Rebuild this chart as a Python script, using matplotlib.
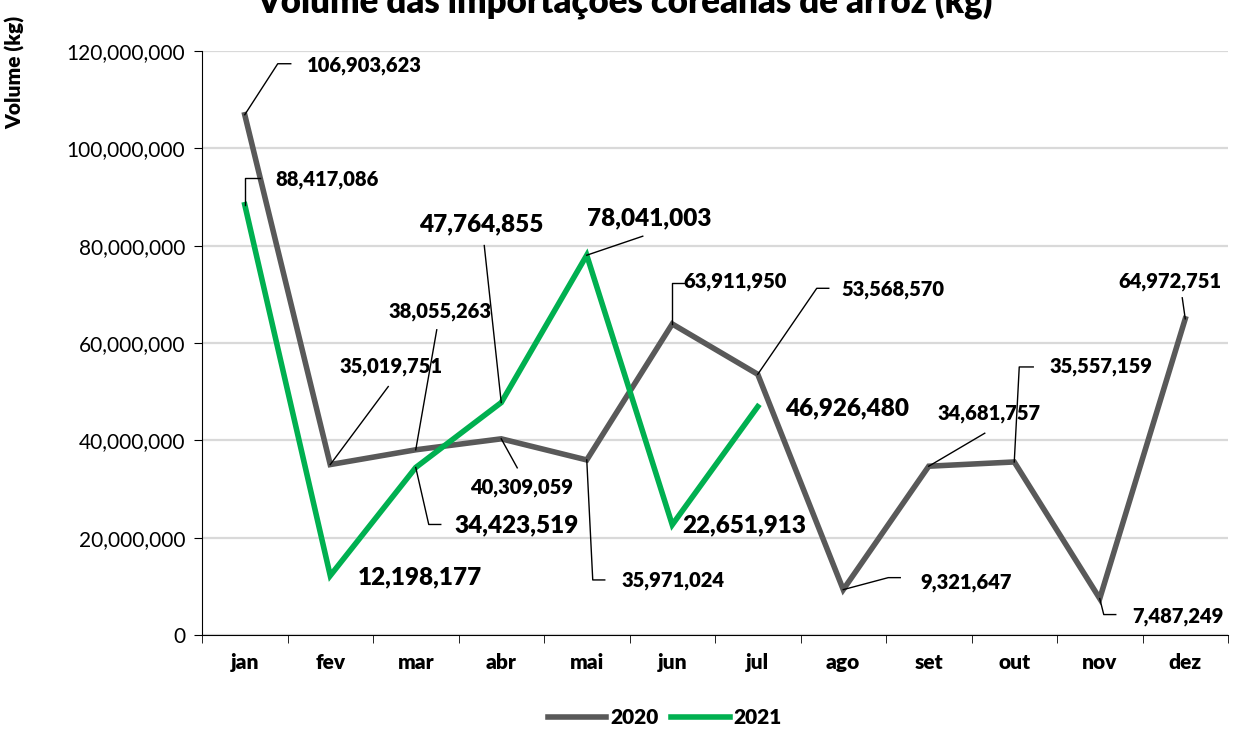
import matplotlib
matplotlib.use("Agg")
import matplotlib.pyplot as plt
from matplotlib.ticker import FuncFormatter, FixedLocator

# data
months = ["jan", "fev", "mar", "abr", "mai", "jun", "jul", "ago", "set", "out", "nov", "dez"]
vol_2020 = [106903623, 35019751, 38055263, 40309059, 35971024, 63911950,
            53568570, 9321647, 34681757, 35557159, 7487249, 64972751]
vol_2021 = [88417086, 12198177, 34423519, 47764855, 78041003, 22651913, 46926480]

# label placement: text offset (px) from the point, leader waypoints (px)
lab_2020 = [
    ((120, 49), [(33, 51), (46, 51)]),
    ((61, 98), [(58, 78)]),
    ((24, 138), [(21, 120)]),
    ((20, -49), [(16, -29)]),
    ((86, -121), [(6, -120), (18, -120)]),
    ((63, 42), [(0, 41), (12, 41)]),
    ((135, 85), [(59, 86), (71, 86)]),
    ((123, 7), [(45, 12), (57, 12)]),
    ((60, 53), [(56, 33)]),
    ((87, 95), [(5, 95), (19, 95)]),
    ((78, -18), [(4, -16), (16, -16)]),
    ((-15, 37), [(-3, 21)]),
]
SMALL, BIG = 14.5, 17.5
lab_2021 = [
    ((82, 25), [(0, 27), (15, 27)], SMALL),
    ((90, -2), [], BIG),
    ((101, -58), [(13, -57), (25, -57)], BIG),
    ((-20, 178), [(-17, 157)], BIG),
    ((62, 37), [(56, 19)], BIG),
    ((72, -1), [], BIG),
    ((89, -2), [], BIG),
]

GRAY = "#595959"
GREEN = "#00B050"
FONT = "Lato"

plt.rcParams["font.family"] = [FONT, "DejaVu Sans"]

fig = plt.figure(figsize=(12.42, 7.31), dpi=100)
ax = fig.add_axes([202 / 1242, 1 - 635 / 731, (1228 - 202) / 1242, (635 - 51) / 731])

x20 = list(range(len(vol_2020)))
x21 = list(range(len(vol_2021)))
ax.plot(x20, vol_2020, color=GRAY, lw=4.0, label="2020", solid_joinstyle="miter", zorder=3)
ax.plot(x21, vol_2021, color=GREEN, lw=4.0, label="2021", solid_joinstyle="miter", zorder=3)

ax.set_xlim(-0.5, 11.5)
ax.set_ylim(0, 120000000)
ax.set_yticks(range(0, 120000001, 20000000))
ax.yaxis.set_major_formatter(FuncFormatter(lambda v, p: f"{int(v):,}"))
ax.yaxis.grid(True, color="#d9d9d9", lw=1.6)
ax.set_axisbelow(True)
ax.set_xticks(x20)
ax.set_xticklabels(months, fontweight="heavy", fontsize=15)
ax.xaxis.set_minor_locator(FixedLocator([i - 0.5 for i in range(13)]))
ax.tick_params(axis="x", which="major", length=0, pad=13)
ax.tick_params(axis="x", which="minor", length=6, direction="out", color="black")
ax.tick_params(axis="y", length=6, labelsize=15, pad=6)
for s in ("top", "right"):
    ax.spines[s].set_visible(False)
ax.spines["left"].set_color("black")
ax.spines["bottom"].set_color("black")

fig.canvas.draw()


def label(i, v, off, leader, size):
    px, py = ax.transData.transform((i, v))
    ax.text(px + off[0], py + off[1], f"{v:,}", transform=None, ha="center", va="center",
            fontsize=size, fontweight="heavy", color="black", zorder=5)
    if leader:
        xs = [px] + [px + dx for dx, dy in leader]
        ys = [py] + [py + dy for dx, dy in leader]
        ax.plot(xs, ys, transform=None, color="black", lw=1.0, zorder=4, clip_on=False)


for i, v in enumerate(vol_2020):
    off, leader = lab_2020[i]
    label(i, v, off, leader, SMALL)
for i, v in enumerate(vol_2021):
    off, leader, size = lab_2021[i]
    label(i, v, off, leader, size)

fig.text(625 / 1242, 1 - 14 / 731, "Volume das importações coreanas de arroz (kg)",
         ha="center", va="baseline", fontsize=25, fontweight="heavy")
fig.text(15 / 1242, 1 - 72 / 731, "Volume (kg)", rotation=90, ha="center", va="center",
         fontsize=15, fontweight="heavy")

fig.legend(loc="center", bbox_to_anchor=(665 / 1242, 1 - 718 / 731), ncol=2, frameon=False,
           handlelength=2.8, prop={"weight": "heavy", "size": 15}, columnspacing=0.6,
           handletextpad=0.2)

fig.savefig("out.png", dpi=100)
